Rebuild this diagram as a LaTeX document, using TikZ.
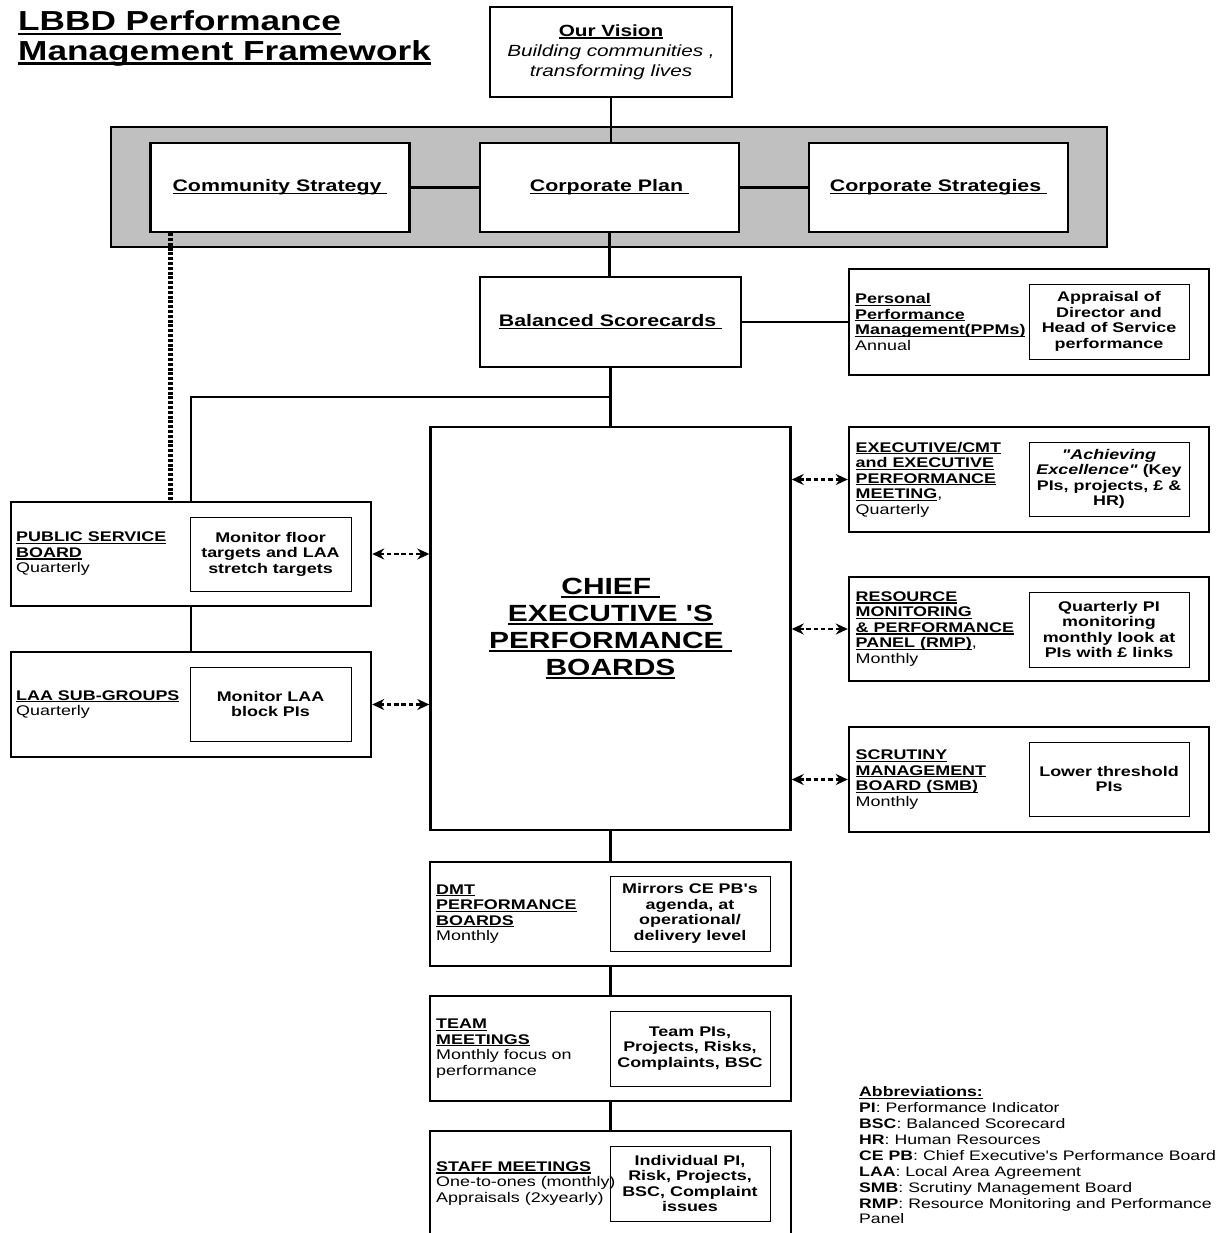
\documentclass[tikz,border=0pt]{standalone}
\usepackage{fontspec}
\setmainfont{Liberation Sans}[FakeStretch=1.28, Ligatures=TeXOff]
\usetikzlibrary{arrows.meta,calc}
\definecolor{bandgray}{RGB}{192,192,192}
\newcommand\uu[1]{\setbox0\hbox{#1}\rlap{\rule[-0.15em]{\wd0}{0.085em}}\box0}
\tikzset{
  box/.style={draw, line width=2.4pt, fill=white, inner sep=0pt, outer sep=0pt},
  inbox/.style={draw, line width=1pt, fill=white, inner sep=0pt, outer sep=0pt,
    minimum width=160pt, minimum height=75pt, align=center,
    font=\bfseries\fontsize{14}{15.5}\selectfont},
  lbl/.style={anchor=west, align=left, inner sep=0pt, font=\fontsize{14}{15.5}\selectfont},
  topbox/.style={box, minimum width=259pt, minimum height=89pt,
    font=\bfseries\fontsize{16.7}{19}\selectfont},
  sidebox/.style={box, minimum width=360pt, minimum height=105pt},
  conn/.style={line width=2.4pt},
  dotline/.style={line width=4.2pt, dash pattern=on 3pt off 1.8pt},
  darr/.style={line width=2.6pt, dash pattern=on 4.5pt off 2.8pt,
    {Stealth[length=12pt,width=11pt]}-{Stealth[length=12pt,width=11pt]},
    shorten <=1.2pt, shorten >=1.2pt},
  ttl/.style={anchor=base west, inner sep=0pt, font=\bfseries\fontsize{27.5}{27}\selectfont},
}
\begin{document}
\begin{tikzpicture}[x=1pt,y=-1pt]
\useasboundingbox (0,0) rectangle (1231,1233);
\clip (0,0) rectangle (1231,1233);

% title
\node[ttl] (title1) at (18,31) {\uu{LBBD Performance}};
\node[ttl] (title2) at (18,60.5) {\uu{Management Framework}};

% vision
\node[box, minimum width=242pt, minimum height=90pt, align=center, font=\fontsize{16.2}{20}\selectfont] (vision) at (611,52)
  {\textbf{\uu{Our Vision}}\\\textit{Building communities ,}\\\textit{transforming lives}};

% band
\node[box, fill=bandgray, minimum width=996pt, minimum height=120pt] (band) at (609,187) {};
\node[topbox] (cs) at (280,187.5) {\uu{Community Strategy }};
\node[topbox] (cp) at (609.5,187.5) {\uu{Corporate Plan }};
\node[topbox] (cst) at (938.5,187.5) {\uu{Corporate Strategies }};

% balanced scorecards
\node[topbox, minimum width=261pt, minimum height=90pt] (bs) at (610.5,322) {\uu{Balanced Scorecards }};

% PPM
\node[sidebox, minimum height=106pt] (ppm) at (1029,322) {};
\node[inbox] (ppmi) at (1109,321.5) {Appraisal of\\Director and\\Head of Service\\performance};
\node[lbl] (ppml) at ([xshift=6pt]ppm.west) {\textbf{\uu{Personal}}\\\textbf{\uu{Performance}}\\\textbf{\uu{Management(PPMs)}}\\Annual};

% chief executive
\node[box, minimum width=360pt, minimum height=403pt, align=center, font=\bfseries\fontsize{23.4}{27}\selectfont] (ce) at (610.5,628.5)
  {\uu{CHIEF }\\\uu{EXECUTIVE 'S}\\\uu{PERFORMANCE }\\\uu{BOARDS}};

% executive
\node[sidebox] (exec) at (1029,479.5) {};
\node[inbox, minimum height=74pt] (execi) at (1109,479) {\textit{"Achieving}\\\textit{Excellence"} (Key\\PIs, projects, £ \&\\HR)};
\node[lbl] (execl) at ([xshift=6.5pt]exec.west) {\textbf{\uu{EXECUTIVE/CMT}}\\\textbf{\uu{and EXECUTIVE}}\\\textbf{\uu{PERFORMANCE}}\\\textbf{\uu{MEETING}},\\Quarterly};

% RMP
\node[sidebox, minimum height=104pt] (rmp) at (1029,629) {};
\node[inbox] (rmpi) at (1109,629.5) {Quarterly PI\\monitoring\\monthly look at\\PIs with £ links};
\node[lbl] (rmpl) at ([xshift=6.5pt]rmp.west) {\textbf{\uu{RESOURCE}}\\\textbf{\uu{MONITORING}}\\\textbf{\uu{\& PERFORMANCE}}\\\textbf{\uu{PANEL (RMP)}},\\Monthly};

% SMB
\node[sidebox] (smb) at (1029,779.5) {};
\node[inbox, minimum height=74pt] (smbi) at (1109,779) {Lower threshold\\PIs};
\node[lbl] (smbl) at ([xshift=6.5pt]smb.west) {\textbf{\uu{SCRUTINY}}\\\textbf{\uu{MANAGEMENT}}\\\textbf{\uu{BOARD (SMB)}}\\Monthly};

% PSB
\node[sidebox, minimum height=104pt] (psb) at (191,554) {};
\node[inbox, minimum width=161pt, minimum height=74pt] (psbi) at (270.5,554) {Monitor floor\\targets and LAA\\stretch targets};
\node[lbl] (psbl) at ([xshift=5pt]psb.west) {\textbf{\uu{PUBLIC SERVICE}}\\\textbf{\uu{BOARD}}\\Quarterly};

% LAA
\node[sidebox] (laa) at (191,704.5) {};
\node[inbox, minimum width=161pt, minimum height=74pt] (laai) at (270.5,704) {Monitor LAA\\block PIs};
\node[lbl] (laal) at ([xshift=5pt]laa.west) {\textbf{\uu{LAA SUB-GROUPS}}\\Quarterly};

% DMT
\node[sidebox, minimum width=361pt, minimum height=104pt] (dmt) at (610.5,914) {};
\node[inbox] (dmti) at (690,913.5) {Mirrors CE PB's\\agenda, at\\operational/\\delivery level};
\node[lbl] (dmtl) at ([xshift=6pt]dmt.west) {\textbf{\uu{DMT}}\\\textbf{\uu{PERFORMANCE}}\\\textbf{\uu{BOARDS}}\\Monthly};

% Team
\node[sidebox, minimum width=361pt] (team) at (610.5,1048.5) {};
\node[inbox] (teami) at (690,1048.5) {Team PIs,\\Projects, Risks,\\Complaints, BSC};
\node[lbl] (teaml) at ([xshift=6pt]team.west) {\textbf{\uu{TEAM}}\\\textbf{\uu{MEETINGS}}\\Monthly focus on\\performance};

% Staff
\node[sidebox, minimum width=361pt, minimum height=129pt] (staff) at (610.5,1195.5) {};
\node[inbox] (staffi) at (690,1183.5) {Individual PI,\\Risk, Projects,\\BSC, Complaint\\issues};
\node[lbl] (staffl) at ([xshift=6pt]staff.west |- staffi.center) {\textbf{\uu{STAFF MEETINGS}}\\One-to-ones (monthly)\\Appraisals (2xyearly)};

% abbreviations
\node[anchor=north west, align=left, inner sep=0pt, font=\fontsize{13.8}{15.9}\selectfont] (abbr) at (859,1086.5)
  {\textbf{\uu{Abbreviations:}}\\
   \textbf{PI}: Performance Indicator\\
   \textbf{BSC}: Balanced Scorecard\\
   \textbf{HR}: Human Resources\\
   \textbf{CE PB}: Chief Executive's Performance Board\\
   \textbf{LAA}: Local Area Agreement\\
   \textbf{SMB}: Scrutiny Management Board\\
   \textbf{RMP}: Resource Monitoring and Performance\\
   Panel};

% connectors
\draw[conn] (vision.south) -- (vision.south |- cp.north);
\draw[conn] (cs.east) -- (cp.west);
\draw[conn] (cp.east) -- (cst.west);
\draw[conn] (cp.south) -- (cp.south |- bs.north);
\draw[conn] (bs.east) -- (ppm.west);
\draw[conn] (bs.south) -- (bs.south |- ce.north);
\coordinate (junc) at ($(bs.south)!0.5!(bs.south |- ce.north)$);
\draw[conn] (junc) -| (psb.north);
\draw[conn] (psb.south) -- (laa.north);
\draw[dotline] ([xshift=20pt,yshift=-1.2pt]cs.south west) -- ([xshift=20pt,yshift=1.2pt]cs.south west |- psb.north);
\draw[darr] (psb.east) -- (ce.west |- psb.east);
\draw[darr] (laa.east) -- (ce.west |- laa.east);
\draw[darr] (ce.east |- exec.west) -- (exec.west);
\draw[darr] (ce.east |- rmp.west) -- (rmp.west);
\draw[darr] (ce.east |- smb.west) -- (smb.west);
\draw[conn] (ce.south) -- (ce.south |- dmt.north);
\draw[conn] (dmt.south) -- (team.north);
\draw[conn] (team.south) -- (staff.north);
\end{tikzpicture}
\end{document}
